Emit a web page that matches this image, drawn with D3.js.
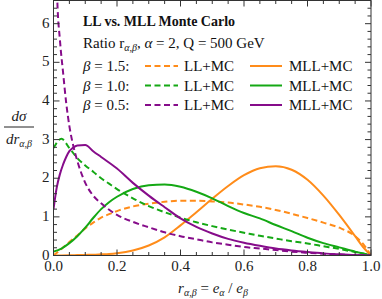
<!DOCTYPE html>
<html>
<head>
<meta charset="utf-8">
<script src="https://cdn.jsdelivr.net/npm/d3@7"></script>
<style>
  body { margin: 0; background: #fff; }
  svg { display: block; font-family: "Liberation Serif", "DejaVu Serif", serif; }
</style>
</head>
<body>
<div id="chart"></div>
<script>
// r values sampled from the plot
const rGrid = [0, 0.025, 0.05, 0.075, 0.1, 0.125, 0.15, 0.175, 0.2, 0.25, 0.3, 0.35, 0.4, 0.45,
               0.5, 0.55, 0.6, 0.65, 0.7, 0.75, 0.8, 0.85, 0.9, 0.95, 0.975, 1.0];

// beta = 1.5
const ll15  = [0, 0.17, 0.35, 0.52, 0.7, 0.85, 0.98, 1.07, 1.15, 1.27, 1.34, 1.39, 1.42, 1.42,
               1.4, 1.37, 1.32, 1.26, 1.18, 1.08, 0.97, 0.85, 0.72, 0.5, 0.3, 0];
const mll15 = [0, 0.002, 0.005, 0.01, 0.015, 0.02, 0.03, 0.04, 0.06, 0.13, 0.26, 0.47, 0.78, 1.12,
               1.47, 1.8, 2.08, 2.26, 2.31, 2.22, 1.96, 1.55, 1.05, 0.5, 0.22, 0];
// beta = 1.0
const ll10  = [2.78, 3.02, 2.78, 2.52, 2.33, 2.17, 2.0, 1.86, 1.72, 1.48, 1.28, 1.12, 0.98, 0.86,
               0.76, 0.67, 0.59, 0.51, 0.44, 0.37, 0.31, 0.24, 0.17, 0.09, 0.05, 0];
const mll10 = [0.1, 0.18, 0.32, 0.5, 0.72, 0.97, 1.2, 1.38, 1.52, 1.72, 1.82, 1.84, 1.78, 1.65,
               1.48, 1.28, 1.1, 0.96, 0.79, 0.63, 0.46, 0.32, 0.21, 0.1, 0.05, 0];
// beta = 0.5 (LL rises steeply at small r, sampled more finely there)
const rLL05 = [0.004, 0.008, 0.012, 0.02, 0.03, 0.04, 0.05, 0.062, 0.075, 0.1, 0.125, 0.15, 0.2, 0.25,
               0.3, 0.35, 0.4, 0.45, 0.5, 0.55, 0.6, 0.65, 0.7, 0.75, 0.8, 0.85, 0.9, 0.95, 1.0];
const ll05  = [9.5, 7.8, 6.6, 5.6, 4.75, 3.95, 3.35, 2.85, 2.45, 1.88, 1.55, 1.35, 1.05, 0.87,
               0.73, 0.6, 0.5, 0.42, 0.34, 0.28, 0.22, 0.18, 0.14, 0.1, 0.07, 0.045, 0.025, 0.01, 0];
const rMLL05 = [0, 0.01, 0.02, 0.03, 0.04, 0.05, 0.06, 0.075, 0.1, 0.125, 0.15, 0.2, 0.25, 0.3, 0.35,
                0.4, 0.45, 0.5, 0.55, 0.6, 0.65, 0.7, 0.75, 0.8, 0.85, 0.9, 0.95, 1.0];
const mll05 = [1.2, 1.75, 2.1, 2.35, 2.55, 2.7, 2.78, 2.85, 2.86, 2.7, 2.55, 2.25, 1.88, 1.55, 1.25,
               0.96, 0.74, 0.57, 0.43, 0.33, 0.25, 0.18, 0.13, 0.09, 0.055, 0.03, 0.01, 0];

const yTicks = [0, 1, 2, 3, 4, 5, 6];
const xTicks = [0, 0.2, 0.4, 0.6, 0.8, 1.0];

const orange = "#ff8c1a", green = "#14a814", purple = "#860c8a";

const series = [
  { r: rGrid, v: ll15, color: orange, dash: true },
  { r: rGrid, v: mll15, color: orange, dash: false },
  { r: rGrid, v: ll10, color: green, dash: true },
  { r: rGrid, v: mll10, color: green, dash: false },
  { r: rLL05, v: ll05, color: purple, dash: true },
  { r: rMLL05, v: mll05, color: purple, dash: false }
];

const width = 382, height = 299;
const plotL = 53.5, plotR = 371, plotT = 0.5, plotB = 255.5;

const svg = d3.select("#chart").append("svg")
    .attr("width", width)
    .attr("height", height);

const x = d3.scaleLinear().domain([0, 1]).range([plotL, plotR]);
const y = d3.scaleLinear().domain([0, 6.6]).range([plotB, plotT]);

svg.append("clipPath").attr("id", "clip")
  .append("rect")
    .attr("x", plotL).attr("y", plotT)
    .attr("width", plotR - plotL).attr("height", plotB - plotT);

// curves
const line = d3.line()
    .x(d => x(d[0]))
    .y(d => y(d[1]))
    .curve(d3.curveMonotoneX);

svg.append("g")
    .attr("clip-path", "url(#clip)")
  .selectAll("path")
  .data(series)
  .join("path")
    .attr("d", s => line(s.r.map((r, i) => [r, s.v[i]])))
    .attr("fill", "none")
    .attr("stroke", s => s.color)
    .attr("stroke-width", 2)
    .attr("stroke-dasharray", s => s.dash ? "6,3.5" : null);

// frame + inward ticks
const frame = svg.append("g").attr("stroke", "#333").attr("stroke-width", 1);
frame.append("rect")
    .attr("x", plotL).attr("y", plotT)
    .attr("width", plotR - plotL).attr("height", plotB - plotT)
    .attr("fill", "none");

const xMinor = d3.range(0, 1.0001, 0.05);
const yMinor = d3.range(0, 6.6, 0.2);
const isMajorX = v => Math.abs(v * 5 - Math.round(v * 5)) < 1e-6;
const isMajorY = v => Math.abs(v - Math.round(v)) < 1e-6;

frame.selectAll(".xt").data(xMinor).join("line").attr("class", "xt")
    .attr("x1", d => x(d)).attr("x2", d => x(d))
    .attr("y1", plotB).attr("y2", d => plotB - (isMajorX(d) ? 6 : 3.5));
frame.selectAll(".xtt").data(xMinor).join("line").attr("class", "xtt")
    .attr("x1", d => x(d)).attr("x2", d => x(d))
    .attr("y1", plotT).attr("y2", d => plotT + (isMajorX(d) ? 6 : 3.5));
frame.selectAll(".yt").data(yMinor).join("line").attr("class", "yt")
    .attr("y1", d => y(d)).attr("y2", d => y(d))
    .attr("x1", plotL).attr("x2", d => plotL + (isMajorY(d) ? 6 : 3.5));
frame.selectAll(".ytr").data(yMinor).join("line").attr("class", "ytr")
    .attr("y1", d => y(d)).attr("y2", d => y(d))
    .attr("x1", plotR).attr("x2", d => plotR - (isMajorY(d) ? 6 : 3.5));

// tick labels
svg.append("g").attr("font-size", 15).attr("fill", "#222")
  .selectAll("text").data(yTicks).join("text")
    .attr("x", plotL - 4).attr("y", d => y(d) + 4)
    .attr("text-anchor", "end")
    .text(d => d);

svg.append("g").attr("font-size", 15).attr("fill", "#222")
  .selectAll("text").data(xTicks).join("text")
    .attr("x", d => x(d)).attr("y", 271)
    .attr("text-anchor", "middle")
    .text(d => d.toFixed(1));

// axis labels
const ylab = svg.append("g").attr("font-size", 15).attr("fill", "#222");
ylab.append("text").attr("x", 19).attr("y", 121).attr("text-anchor", "middle")
    .attr("font-style", "italic").text("dσ");
ylab.append("line").attr("x1", 4).attr("x2", 34).attr("y1", 127).attr("y2", 127)
    .attr("stroke", "#222").attr("stroke-width", 1);
const den = ylab.append("text").attr("x", 19).attr("y", 144).attr("text-anchor", "middle")
    .attr("font-style", "italic");
den.append("tspan").text("dr");
den.append("tspan").attr("font-size", 10).attr("dy", 3).text("α,β");

const xlab = svg.append("text").attr("x", 213).attr("y", 293)
    .attr("text-anchor", "middle").attr("font-size", 15).attr("fill", "#222");
xlab.append("tspan").attr("font-style", "italic").text("r");
xlab.append("tspan").attr("font-size", 10).attr("font-style", "italic").attr("dy", 3).text("α,β");
xlab.append("tspan").attr("dy", -3).text(" = ");
xlab.append("tspan").attr("font-style", "italic").text("e");
xlab.append("tspan").attr("font-size", 10).attr("font-style", "italic").attr("dy", 3).text("α");
xlab.append("tspan").attr("dy", -3).text(" / ");
xlab.append("tspan").attr("font-style", "italic").text("e");
xlab.append("tspan").attr("font-size", 10).attr("font-style", "italic").attr("dy", 3).text("β");

// title block and legend
const txt = svg.append("g").attr("fill", "#111");
txt.append("text").attr("x", 83).attr("y", 26).attr("font-size", 14).attr("font-weight", "bold")
    .text("LL vs. MLL Monte Carlo");
const sub = txt.append("text").attr("x", 83).attr("y", 48).attr("font-size", 15);
sub.append("tspan").text("Ratio r");
sub.append("tspan").attr("font-size", 10).attr("font-style", "italic").attr("dy", 3).text("α,β");
sub.append("tspan").attr("dy", -3).text(", ");
sub.append("tspan").attr("font-style", "italic").text("α");
sub.append("tspan").text(" = 2, Q = 500 GeV");

const betas = ["1.5", "1.0", "0.5"];
const legendColors = [orange, green, purple];
const rowY = [71, 90.5, 110];

const rows = txt.selectAll(".row").data(betas).join("g").attr("class", "row")
    .attr("transform", (d, i) => `translate(0,${rowY[i]})`);
rows.append("text").attr("x", 83).attr("font-size", 15)
  .call(t => {
    t.append("tspan").attr("font-style", "italic").text("β");
    t.append("tspan").text(d => ` = ${d}:`);
  });
rows.append("line").attr("x1", 145).attr("x2", 178).attr("y1", -5).attr("y2", -5)
    .attr("stroke", (d, i) => legendColors[i]).attr("stroke-width", 2)
    .attr("stroke-dasharray", "6,3.5");
rows.append("text").attr("x", 184).attr("font-size", 15).text("LL+MC");
rows.append("line").attr("x1", 250).attr("x2", 282).attr("y1", -5).attr("y2", -5)
    .attr("stroke", (d, i) => legendColors[i]).attr("stroke-width", 2);
rows.append("text").attr("x", 289).attr("font-size", 15).text("MLL+MC");
</script>
</body>
</html>
